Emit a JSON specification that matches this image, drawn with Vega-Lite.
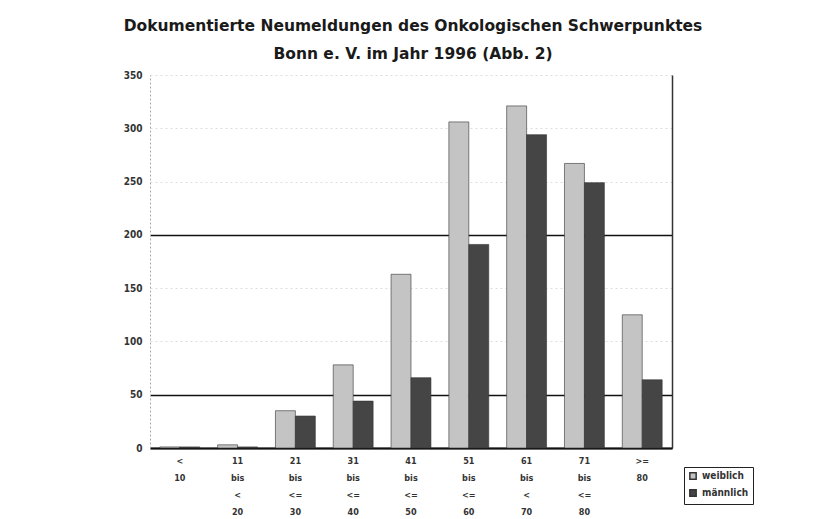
{
  "$schema": "https://vega.github.io/schema/vega-lite/v6.json",
  "width": 522,
  "height": 373,
  "autosize": {"type": "none"},
  "padding": {"left": 150, "top": 75, "right": 146, "bottom": 71},
  "background": "white",
  "title": {
    "text": ["Dokumentierte Neumeldungen des Onkologischen Schwerpunktes", "Bonn e. V. im Jahr 1996 (Abb. 2)"],
    "fontSize": 15.5,
    "font": "DejaVu Sans",
    "fontWeight": "bold",
    "color": "#1a1a1a",
    "lineHeight": 28,
    "offset": 8,
    "anchor": "middle",
    "dx": 2
  },
  "config": {
    "view": {"stroke": null},
    "font": "DejaVu Sans Condensed"
  },
  "data": {
    "values": [
      {"Alter": "< 10", "Geschlecht": "weiblich", "Anzahl": 1},
      {"Alter": "< 10", "Geschlecht": "männlich", "Anzahl": 1},
      {"Alter": "11 bis < 20", "Geschlecht": "weiblich", "Anzahl": 3},
      {"Alter": "11 bis < 20", "Geschlecht": "männlich", "Anzahl": 1},
      {"Alter": "21 bis <= 30", "Geschlecht": "weiblich", "Anzahl": 35},
      {"Alter": "21 bis <= 30", "Geschlecht": "männlich", "Anzahl": 30},
      {"Alter": "31 bis <= 40", "Geschlecht": "weiblich", "Anzahl": 78},
      {"Alter": "31 bis <= 40", "Geschlecht": "männlich", "Anzahl": 44},
      {"Alter": "41 bis <= 50", "Geschlecht": "weiblich", "Anzahl": 163},
      {"Alter": "41 bis <= 50", "Geschlecht": "männlich", "Anzahl": 66},
      {"Alter": "51 bis <= 60", "Geschlecht": "weiblich", "Anzahl": 306},
      {"Alter": "51 bis <= 60", "Geschlecht": "männlich", "Anzahl": 191},
      {"Alter": "61 bis < 70", "Geschlecht": "weiblich", "Anzahl": 321},
      {"Alter": "61 bis < 70", "Geschlecht": "männlich", "Anzahl": 294},
      {"Alter": "71 bis <= 80", "Geschlecht": "weiblich", "Anzahl": 267},
      {"Alter": "71 bis <= 80", "Geschlecht": "männlich", "Anzahl": 249},
      {"Alter": ">= 80", "Geschlecht": "weiblich", "Anzahl": 125},
      {"Alter": ">= 80", "Geschlecht": "männlich", "Anzahl": 64}
    ]
  },
  "layer": [
    {
      "mark": {"type": "bar", "stroke": "#333", "strokeWidth": 0.6},
      "encoding": {
        "x": {
          "field": "Alter",
          "type": "nominal",
          "sort": null,
          "scale": {"paddingInner": 0.31, "paddingOuter": 0.17},
          "axis": {
            "title": null,
            "labelAngle": 0,
            "labelExpr": "split(datum.label, ' ')",
            "labelLineHeight": 17,
            "labelFontSize": 9,
            "labelFontWeight": "bold",
            "labelColor": "#333",
            "labelPadding": 8,
            "ticks": false,
            "domainColor": "#111",
            "domainWidth": 2
          }
        },
        "xOffset": {"field": "Geschlecht", "type": "nominal", "sort": ["weiblich", "männlich"]},
        "y": {
          "field": "Anzahl",
          "type": "quantitative",
          "scale": {"domain": [0, 350], "nice": false},
          "axis": {
            "title": null,
            "values": [0, 50, 100, 150, 200, 250, 300, 350],
            "ticks": false,
            "labelPadding": 8,
            "labelFontSize": 10,
            "labelFontWeight": "bold",
            "labelColor": "#333",
            "domainColor": "#aaa",
            "domainDash": [2, 2],
            "grid": true,
            "gridColor": {"condition": {"test": "datum.value == 50 || datum.value == 200 || datum.value == 0", "value": "#111"}, "value": "#ddd"},
            "gridWidth": {"condition": {"test": "datum.value == 50 || datum.value == 200 || datum.value == 0", "value": 1.5}, "value": 1},
            "gridDash": {"condition": {"test": "datum.value == 50 || datum.value == 200 || datum.value == 0", "value": []}, "value": [2, 3]}
          }
        },
        "color": {
          "field": "Geschlecht",
          "type": "nominal",
          "sort": ["weiblich", "männlich"],
          "scale": {"domain": ["weiblich", "männlich"], "range": ["#c4c4c4", "#454545"]},
          "legend": {
            "title": null,
            "orient": "none",
            "legendX": 534,
            "legendY": 392,
            "strokeColor": "#222",
            "padding": 4,
            "rowPadding": 3,
            "symbolType": "square",
            "symbolSize": 40,
            "symbolStrokeColor": "#333",
            "labelFontSize": 10,
            "labelFontWeight": "bold",
            "labelColor": "#333"
          }
        }
      }
    },
    {
      "mark": {"type": "rule", "opacity": 0},
      "encoding": {
        "y": {
          "datum": 0,
          "type": "quantitative",
          "axis": {
            "orient": "right",
            "title": null,
            "labels": false,
            "ticks": false,
            "grid": false,
            "domainColor": "#333",
            "domainWidth": 1.5
          }
        }
      }
    }
  ],
  "resolve": {"axis": {"y": "independent"}}
}
